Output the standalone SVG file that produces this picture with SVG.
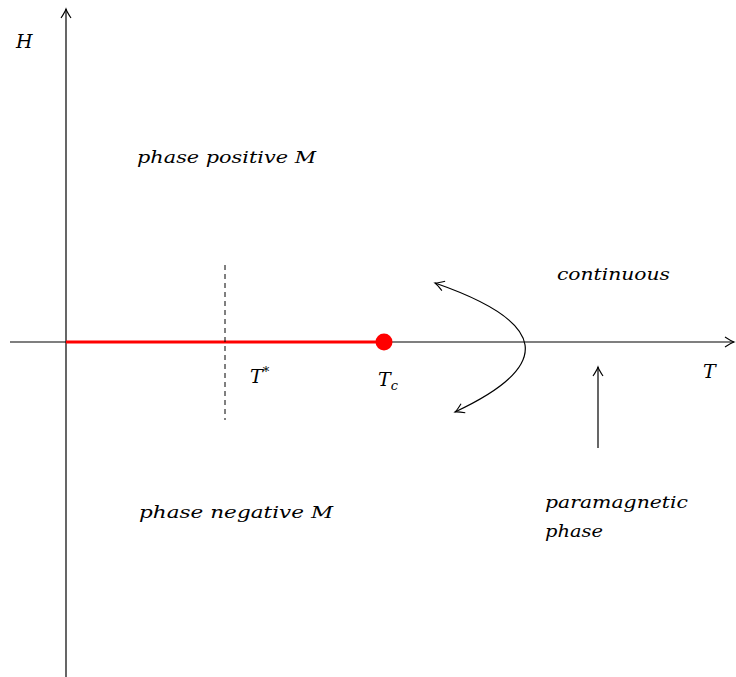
<svg xmlns="http://www.w3.org/2000/svg" width="736" height="677" viewBox="0 0 736 677">
<style>
.ax{stroke:#000;stroke-width:1.2;fill:none}
.t{font-family:"DejaVu Serif",serif;font-style:italic;font-size:17px;fill:#000}
.v{font-family:"DejaVu Serif",serif;font-style:italic;font-size:19px;fill:#000}
</style>
<defs>
<marker id="arr" viewBox="-10 -6 12 12" refX="0" refY="0" markerWidth="12" markerHeight="12" markerUnits="userSpaceOnUse" orient="auto">
<path d="M-9,-5 Q-3,-1 0,0 Q-3,1 -9,5" fill="none" stroke="#000" stroke-width="1.1"/>
</marker>
<marker id="arrs" viewBox="-10 -6 12 12" refX="0" refY="0" markerWidth="12" markerHeight="12" markerUnits="userSpaceOnUse" orient="auto-start-reverse">
<path d="M-9,-5 Q-3,-1 0,0 Q-3,1 -9,5" fill="none" stroke="#000" stroke-width="1.1"/>
</marker>
</defs>
<rect width="736" height="677" fill="#fff"/>
<g id="connectors">
<line class="ax" x1="66" y1="677" x2="66" y2="9" marker-end="url(#arr)"/>
<line class="ax" x1="10" y1="342" x2="734" y2="342" marker-end="url(#arr)"/>
<line x1="66" y1="342" x2="384" y2="342" stroke="#f00" stroke-width="3"/>
<line x1="225" y1="265" x2="225" y2="420" stroke="#000" stroke-width="1" stroke-dasharray="5,4"/>
<path class="ax" d="M455,412 Q605,342 435,283" marker-start="url(#arrs)" marker-end="url(#arr)"/>
<line class="ax" x1="598" y1="448" x2="598" y2="367" marker-end="url(#arr)"/>
</g>
<g id="Tc"><circle cx="384" cy="342" r="8.5" fill="#f00"/>
<text class="v" x="378" y="386">T<tspan font-size="13" dy="4">c</tspan></text></g>
<g id="Tstar"><text class="v" x="250" y="383">T<tspan font-size="13" dy="-7">*</tspan></text></g>
<g id="labels">
<text class="v" x="16" y="48">H</text>
<text class="v" x="703" y="378">T</text>
<text class="t" x="137" y="163" textLength="179" lengthAdjust="spacingAndGlyphs">phase positive M</text>
<text class="t" x="139" y="518" textLength="194" lengthAdjust="spacingAndGlyphs">phase negative M</text>
<text class="t" x="557" y="280" textLength="113" lengthAdjust="spacingAndGlyphs">continuous</text>
<text class="t" x="545" y="508" textLength="143" lengthAdjust="spacingAndGlyphs">paramagnetic</text>
<text class="t" x="545" y="537" textLength="58" lengthAdjust="spacingAndGlyphs">phase</text>
</g>
</svg>
